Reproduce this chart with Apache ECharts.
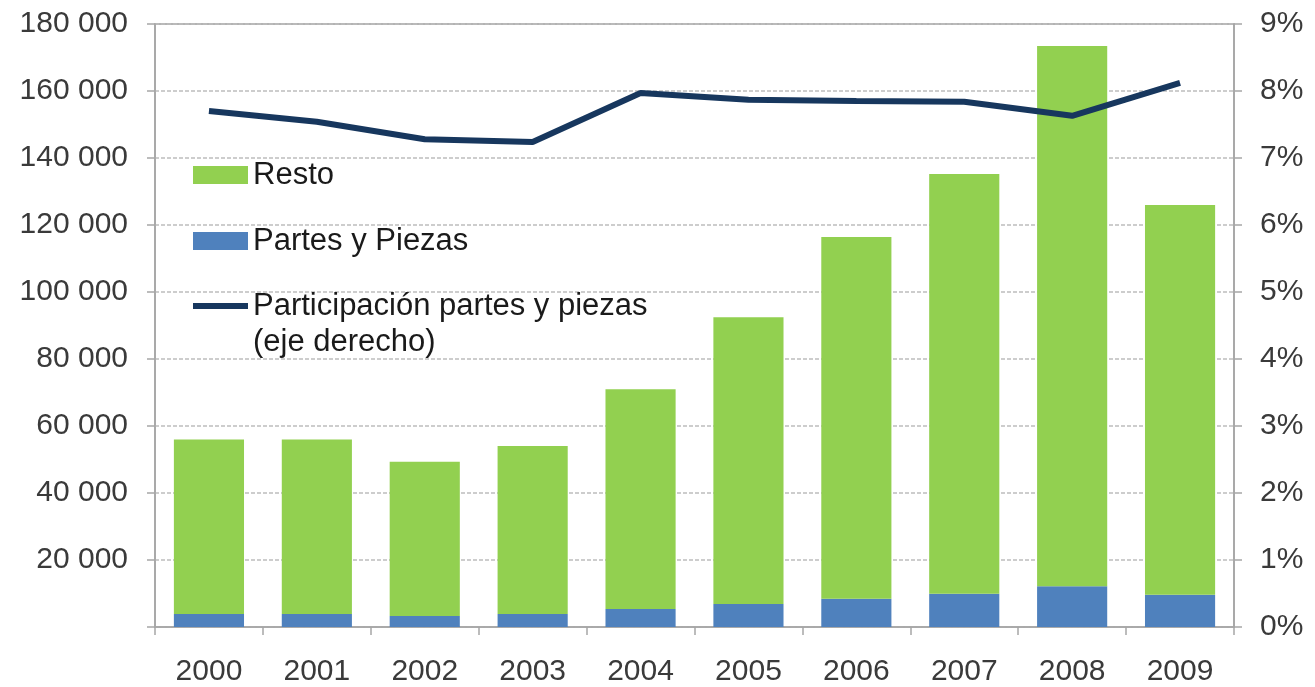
<!DOCTYPE html>
<html>
<head>
<meta charset="utf-8">
<script src="https://cdn.jsdelivr.net/npm/echarts@6/dist/echarts.min.js"></script>
<style>
  html, body { margin: 0; padding: 0; background: #fff; }
  #main { width: 1315px; height: 687px; }
</style>
</head>
<body>
<div id="main"></div>
<script>
// datos
var years = ['2000', '2001', '2002', '2003', '2004', '2005', '2006', '2007', '2008', '2009'];
var partes = [3900, 3900, 3300, 3900, 5400, 6900, 8400, 9900, 12200, 9600];
var resto = [52100, 52100, 46000, 50100, 65600, 85600, 108000, 125300, 161200, 116400];
var participacion = [7.70, 7.54, 7.28, 7.24, 7.97, 7.87, 7.85, 7.84, 7.63, 8.12];
var leftTicks = { min: 0, max: 180000, step: 20000 };
var rightTicks = { min: 0, max: 9, step: 1 };

var fontFam = '"Liberation Sans", Arial, sans-serif';
var txtColor = '#3a3a3a';
var axisColor = '#a6a6a6';
var lineName = 'Participación partes y piezas\n(eje derecho)';

function miles(v) {
    if (v === 0) return '';
    return String(v).replace(/\B(?=(\d{3})+(?!\d))/g, ' ');
}

var legendText = { fontFamily: fontFam, fontSize: 31, color: '#1a1a1a', lineHeight: 36 };

var myChart = echarts.init(document.getElementById('main'));
myChart.setOption({
    animation: false,
    grid: { left: 155, right: 81, top: 24, bottom: 60, show: true, borderColor: '#9a9a9a', borderWidth: 1.5 },
    legend: [
        {
            orient: 'vertical',
            left: 193,
            top: 157,
            padding: 0,
            itemWidth: 55,
            itemHeight: 18,
            itemGap: 30,
            textStyle: legendText,
            data: [
                { name: 'Resto', icon: 'rect' },
                { name: 'Partes y Piezas', icon: 'rect' }
            ]
        },
        {
            // la linea va aparte para alinear el icono con la primera linea del texto
            orient: 'vertical',
            left: 193,
            top: 252,
            padding: 0,
            itemWidth: 55,
            itemHeight: 18,
            textStyle: legendText,
            formatter: function (name) { return '\n' + name; },
            data: [
                { name: lineName, icon: 'path://M0,0H55V6H0Z' }
            ]
        }
    ],
    xAxis: {
        type: 'category',
        data: years,
        axisLine: { lineStyle: { color: axisColor, width: 1.5 } },
        axisTick: { show: true, length: 8, lineStyle: { color: axisColor, width: 1.5 } },
        axisLabel: { fontFamily: fontFam, fontSize: 30, color: txtColor, margin: 30 }
    },
    yAxis: [
        {
            type: 'value',
            min: leftTicks.min,
            max: leftTicks.max,
            interval: leftTicks.step,
            axisLine: { show: true, lineStyle: { color: axisColor, width: 1.5 } },
            axisTick: { show: true, length: 8, lineStyle: { color: axisColor, width: 1.5 } },
            axisLabel: { fontFamily: fontFam, fontSize: 30, color: txtColor, margin: 27, formatter: miles },
            splitLine: { show: true, lineStyle: { color: '#bdbdbd', type: [4, 2], width: 1.5 } }
        },
        {
            type: 'value',
            min: rightTicks.min,
            max: rightTicks.max,
            interval: rightTicks.step,
            position: 'right',
            axisLine: { show: true, lineStyle: { color: axisColor, width: 1.5 } },
            axisTick: { show: true, length: 8, lineStyle: { color: axisColor, width: 1.5 } },
            axisLabel: { fontFamily: fontFam, fontSize: 30, color: txtColor, margin: 26, formatter: '{value}%' },
            splitLine: { show: false }
        }
    ],
    series: [
        {
            name: 'Partes y Piezas',
            type: 'bar',
            stack: 'total',
            barWidth: '65%',
            itemStyle: { color: '#4f81bd' },
            data: partes
        },
        {
            name: 'Resto',
            type: 'bar',
            stack: 'total',
            itemStyle: { color: '#92d050' },
            data: resto
        },
        {
            name: lineName,
            type: 'line',
            yAxisIndex: 1,
            symbol: 'none',
            lineStyle: { color: '#17375e', width: 6 },
            itemStyle: { color: '#17375e' },
            data: participacion
        }
    ]
});
</script>
</body>
</html>
